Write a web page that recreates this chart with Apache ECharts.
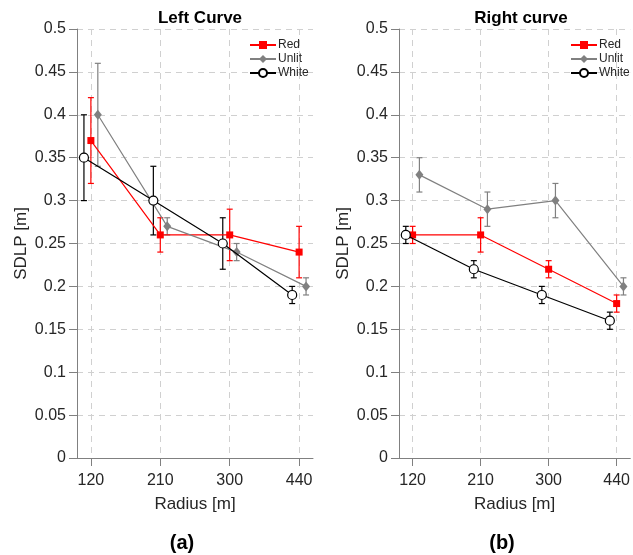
<!DOCTYPE html>
<html>
<head>
<meta charset="utf-8">
<script src="https://cdn.jsdelivr.net/npm/echarts@6/dist/echarts.min.js"></script>
<style>
html, body { margin: 0; padding: 0; background: #fff; }
#main { width: 633px; height: 555px; }
</style>
</head>
<body>
<div id="main"></div>
<script>
// radius categories (drawn at positions 1..4)
var radiusLabels = ['120', '210', '300', '440'];
var radiusPos = [1, 2, 3, 4];

// left curve
var leftRed = [0.37, 0.26, 0.26, 0.24];
var leftRedErr = [0.05, 0.02, 0.03, 0.03];
var leftUnlit = [0.40, 0.27, 0.24, 0.20];
var leftUnlitErr = [0.06, 0.01, 0.01, 0.01];
var leftWhite = [0.35, 0.30, 0.25, 0.19];
var leftWhiteErr = [0.05, 0.04, 0.03, 0.01];

// right curve
var rightRed = [0.26, 0.26, 0.22, 0.18];
var rightRedErr = [0.01, 0.02, 0.01, 0.01];
var rightUnlit = [0.33, 0.29, 0.30, 0.20];
var rightUnlitErr = [0.02, 0.02, 0.02, 0.01];
var rightWhite = [0.26, 0.22, 0.19, 0.16];
var rightWhiteErr = [0.01, 0.01, 0.01, 0.01];

// horizontal dodge of each group
var offsets = { Red: 0, Unlit: 0.1, White: -0.1 };
var colors = { Red: '#ff0000', Unlit: '#808080', White: '#000000' };

var FONT = 'Liberation Sans, Arial, sans-serif';

function pts(vals, off) {
    var out = [];
    for (var i = 0; i < vals.length; i++) {
        out.push([radiusPos[i] + off, vals[i]]);
    }
    return out;
}

function errPts(vals, errs, off) {
    var out = [];
    for (var i = 0; i < vals.length; i++) {
        out.push([radiusPos[i] + off, vals[i] - errs[i], vals[i] + errs[i]]);
    }
    return out;
}

function errSeries(name, vals, errs, idx) {
    var c = colors[name];
    return {
        type: 'custom',
        name: name + '_err' + idx,
        xAxisIndex: idx,
        yAxisIndex: idx,
        silent: true,
        z: 1,
        data: errPts(vals, errs, offsets[name]),
        renderItem: function (params, api) {
            var lo = api.coord([api.value(0), api.value(1)]);
            var hi = api.coord([api.value(0), api.value(2)]);
            var w = 3;
            var st = { stroke: c, lineWidth: 1.2 };
            return {
                type: 'group',
                children: [
                    { type: 'line', shape: { x1: lo[0], y1: lo[1], x2: hi[0], y2: hi[1] }, style: st },
                    { type: 'line', shape: { x1: lo[0] - w, y1: lo[1], x2: lo[0] + w, y2: lo[1] }, style: st },
                    { type: 'line', shape: { x1: hi[0] - w, y1: hi[1], x2: hi[0] + w, y2: hi[1] }, style: st }
                ]
            };
        }
    };
}

function lineSeries(name, vals, idx) {
    var s = {
        type: 'line',
        name: name,
        xAxisIndex: idx,
        yAxisIndex: idx,
        z: 3,
        data: pts(vals, offsets[name]),
        lineStyle: { color: colors[name], width: 1.2 },
        itemStyle: { color: colors[name] },
        animation: false
    };
    if (name == 'Red') {
        s.symbol = 'rect';
        s.symbolSize = 7;
    } else if (name == 'Unlit') {
        s.symbol = 'diamond';
        s.symbolSize = [8, 10];
    } else {
        s.symbol = 'circle';
        s.symbolSize = 9;
        s.z = 4;
        s.itemStyle = { color: '#ffffff', borderColor: '#000000', borderWidth: 1.2 };
    }
    return s;
}

function xAxisOpt(idx) {
    return {
        type: 'value',
        gridIndex: idx,
        min: 0.8,
        max: 4.2,
        name: 'Radius [m]',
        nameLocation: 'middle',
        nameGap: 38,
        nameTextStyle: { fontFamily: FONT, fontSize: 17, color: '#262626' },
        axisLine: { lineStyle: { color: '#808080', width: 1 } },
        axisTick: { show: true, inside: false, length: 8, customValues: radiusPos, lineStyle: { color: '#808080' } },
        axisLabel: {
            customValues: radiusPos,
            margin: 15,
            fontFamily: FONT,
            fontSize: 16,
            color: '#262626',
            formatter: function (v) {
                var i = radiusPos.indexOf(Math.round(v));
                return i >= 0 ? radiusLabels[i] : '';
            }
        },
        splitLine: { show: true, lineStyle: { color: '#d0d0d0', type: [6, 5], width: 1 } }
    };
}

function yAxisOpt(idx) {
    return {
        type: 'value',
        gridIndex: idx,
        min: 0,
        max: 0.5,
        interval: 0.05,
        name: 'SDLP [m]',
        nameLocation: 'middle',
        nameGap: 47,
        nameTextStyle: { fontFamily: FONT, fontSize: 17, color: '#262626' },
        axisLine: { show: true, lineStyle: { color: '#808080', width: 1 } },
        axisTick: { show: true, inside: false, length: 8, lineStyle: { color: '#808080' } },
        axisLabel: {
            margin: 11,
            fontFamily: FONT,
            fontSize: 16,
            color: '#262626',
            formatter: function (v) {
                return String(parseFloat(v.toFixed(2)));
            }
        },
        splitLine: { show: true, lineStyle: { color: '#d0d0d0', type: [6, 5], width: 1 } }
    };
}

function legendOpt(left) {
    return {
        orient: 'vertical',
        left: left,
        top: 39,
        padding: 0,
        itemWidth: 26,
        itemHeight: 10,
        itemGap: 2,
        data: ['Red', 'Unlit', 'White'],
        textStyle: { fontFamily: FONT, fontSize: 12, lineHeight: 12, color: '#262626', padding: [0, 0, 0, -3] }
    };
}

var chart = echarts.init(document.getElementById('main'), null, { renderer: 'canvas' });

var option = {
    backgroundColor: '#ffffff',
    animation: false,
    title: [
        { text: 'Left Curve', left: 195, top: 5, textAlign: 'center', textStyle: { fontFamily: FONT, fontSize: 17, fontWeight: 'bold', color: '#000' } },
        { text: 'Right curve', left: 516, top: 5, textAlign: 'center', textStyle: { fontFamily: FONT, fontSize: 17, fontWeight: 'bold', color: '#000' } },
        { text: '(a)', left: 177, top: 528, textAlign: 'center', textStyle: { fontFamily: FONT, fontSize: 20, fontWeight: 'bold', color: '#000' } },
        { text: '(b)', left: 497, top: 528, textAlign: 'center', textStyle: { fontFamily: FONT, fontSize: 20, fontWeight: 'bold', color: '#000' } }
    ],
    legend: [legendOpt(249), legendOpt(570)],
    grid: [
        { left: 77, top: 29, width: 236, height: 429, containLabel: false },
        { left: 399, top: 29, width: 234, height: 429, containLabel: false }
    ],
    xAxis: [xAxisOpt(0), xAxisOpt(1)],
    yAxis: [yAxisOpt(0), yAxisOpt(1)],
    series: [
        errSeries('Red', leftRed, leftRedErr, 0),
        errSeries('Unlit', leftUnlit, leftUnlitErr, 0),
        errSeries('White', leftWhite, leftWhiteErr, 0),
        lineSeries('Red', leftRed, 0),
        lineSeries('Unlit', leftUnlit, 0),
        lineSeries('White', leftWhite, 0),
        errSeries('Red', rightRed, rightRedErr, 1),
        errSeries('Unlit', rightUnlit, rightUnlitErr, 1),
        errSeries('White', rightWhite, rightWhiteErr, 1),
        lineSeries('Red', rightRed, 1),
        lineSeries('Unlit', rightUnlit, 1),
        lineSeries('White', rightWhite, 1)
    ]
};

chart.setOption(option);
</script>
</body>
</html>
